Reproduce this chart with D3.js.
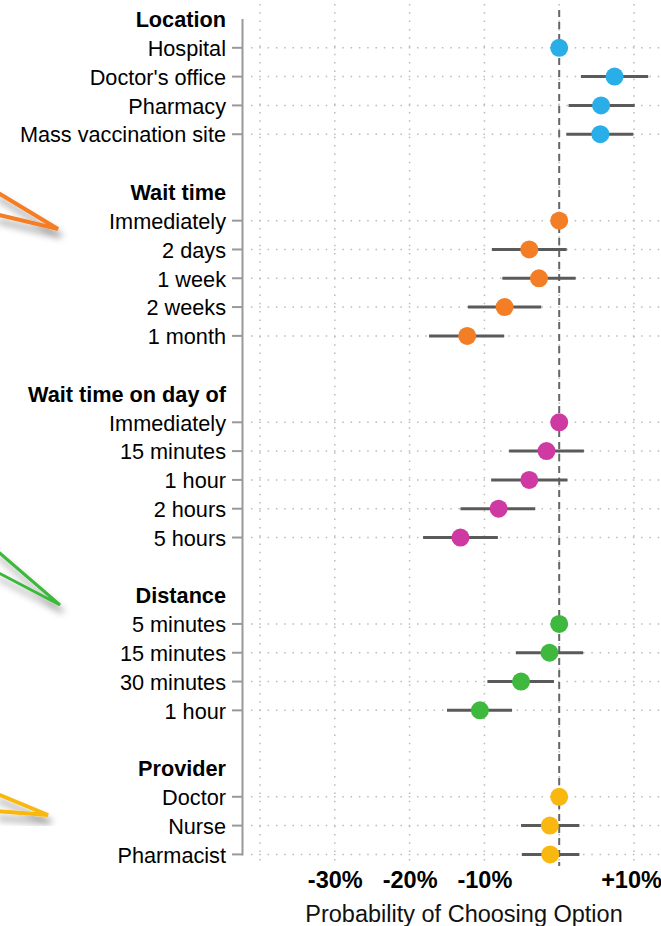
<!DOCTYPE html>
<html>
<head>
<meta charset="utf-8">
<script src="https://cdn.jsdelivr.net/npm/d3@7"></script>
<style>
  body { margin: 0; background: #fff; }
  svg { display: block; font-family: "Liberation Sans", Arial, sans-serif; }
</style>
</head>
<body>
<svg id="chart" width="661" height="926"></svg>
<script>
// attribute groups
var groupNames = ["Location", "Wait time", "Wait time on day of", "Distance", "Provider"];
var groupColors = ["#2AAEE8", "#F47E26", "#CF3AA2", "#3EB83D", "#F9B80F"];

// levels (reference level first in each group)
var levelNames = ["Hospital", "Doctor's office", "Pharmacy", "Mass vaccination site",
                  "Immediately", "2 days", "1 week", "2 weeks", "1 month",
                  "Immediately", "15 minutes", "1 hour", "2 hours", "5 hours",
                  "5 minutes", "15 minutes", "30 minutes", "1 hour",
                  "Doctor", "Nurse", "Pharmacist"];
var levelGroup = [0, 0, 0, 0,
                  1, 1, 1, 1, 1,
                  2, 2, 2, 2, 2,
                  3, 3, 3, 3,
                  4, 4, 4];

// change in probability (%) with 95% interval
var estimate = [0, 7.4, 5.6, 5.5,
                0, -4.0, -2.7, -7.3, -12.3,
                0, -1.7, -4.0, -8.1, -13.2,
                0, -1.3, -5.1, -10.6,
                0, -1.25, -1.2];
var lower = [null, 2.9, 1.25, 0.95,
             null, -9.0, -7.6, -12.2, -17.4,
             null, -6.7, -9.1, -13.2, -18.2,
             null, -5.8, -9.6, -15.0,
             null, -5.1, -5.0];
var upper = [null, 11.9, 10.1, 9.9,
             null, 1.0, 2.2, -2.4, -7.35,
             null, 3.3, 1.1, -3.2, -8.2,
             null, 3.2, -0.7, -6.3,
             null, 2.7, 2.7];

var xTicks = [-40, -30, -20, -10, 0, 10];

var svg = d3.select("#chart");

// build the row slots: header, levels, blank spacer
var slots = [];
groupNames.forEach(function(g, gi) {
    slots.push({id: "h" + gi, type: "header", label: g});
    levelNames.forEach(function(name, i) {
        if (levelGroup[i] == gi) slots.push({id: "r" + i, type: "row", label: name, i: i});
    });
    if (gi < groupNames.length - 1) slots.push({id: "b" + gi, type: "blank", label: ""});
});
var rows = slots.filter(function(s) { return s.type == "row"; });

var x = d3.scaleLinear().domain([-40, 10]).range([260, 634]);
var y = d3.scalePoint().domain(slots.map(function(s) { return s.id; })).range([19, 854.4]);

// left-edge pointer decorations with shadow
var defs = svg.append("defs");
var f = defs.append("filter").attr("id", "shadow").attr("x", "-50%").attr("y", "-50%").attr("width", "200%").attr("height", "200%");
f.append("feDropShadow").attr("dx", 3).attr("dy", 7).attr("stdDeviation", 3.5)
    .attr("flood-color", "#000").attr("flood-opacity", 0.4);

var pointers = [
    {color: groupColors[1], d: "M-5,191 L58,229 L-5,214", w: 4},
    {color: groupColors[3], d: "M-5,549 L60,605 L-5,571", w: 3},
    {color: groupColors[4], d: "M-5,793 L48,815 L-5,811", w: 4}
];
svg.append("g").selectAll("path").data(pointers).enter().append("path")
    .attr("d", function(d) { return d.d; })
    .attr("fill", "none")
    .attr("stroke", function(d) { return d.color; })
    .attr("stroke-width", function(d) { return d.w; })
    .attr("stroke-linejoin", "miter")
    .attr("filter", "url(#shadow)");

// vertical dotted gridlines
svg.append("g").selectAll("line").data(xTicks).enter().append("line")
    .attr("x1", function(d) { return x(d); })
    .attr("x2", function(d) { return x(d); })
    .attr("y1", 4).attr("y2", 866)
    .attr("stroke", "#bbb").attr("stroke-width", 1.5)
    .attr("stroke-dasharray", "1.5,6.8");

// horizontal dotted gridlines at each level
svg.append("g").selectAll("line").data(rows).enter().append("line")
    .attr("x1", 251).attr("x2", 661)
    .attr("y1", function(d) { return y(d.id); })
    .attr("y2", function(d) { return y(d.id); })
    .attr("stroke", "#bbb").attr("stroke-width", 1.5)
    .attr("stroke-dasharray", "1.5,6.8");

// zero reference line
svg.append("line")
    .attr("x1", x(0)).attr("x2", x(0))
    .attr("y1", 10).attr("y2", 866)
    .attr("stroke", "#666").attr("stroke-width", 2)
    .attr("stroke-dasharray", "7,5");

// y axis line and ticks
svg.append("line")
    .attr("x1", 242.5).attr("x2", 242.5)
    .attr("y1", y(slots[0].id)).attr("y2", y(slots[slots.length - 1].id) + 1)
    .attr("stroke", "#999").attr("stroke-width", 2);
svg.append("g").selectAll("line").data(rows).enter().append("line")
    .attr("x1", 232).attr("x2", 242.5)
    .attr("y1", function(d) { return y(d.id); })
    .attr("y2", function(d) { return y(d.id); })
    .attr("stroke", "#999").attr("stroke-width", 2);

// row labels
svg.append("g").selectAll("text").data(slots.filter(function(s) { return s.type != "blank"; }))
    .enter().append("text")
    .attr("x", 226)
    .attr("y", function(d) { return y(d.id); })
    .attr("dy", "0.38em")
    .attr("text-anchor", "end")
    .style("font-size", "21.7px")
    .style("font-weight", function(d) { return d.type == "header" ? "bold" : "normal"; })
    .style("fill", "#000")
    .text(function(d) { return d.label; });

// error bars
var ciRows = rows.filter(function(d) { return lower[d.i] != null; });
svg.append("g").selectAll("line").data(ciRows).enter().append("line")
    .attr("x1", function(d) { return x(lower[d.i]); })
    .attr("x2", function(d) { return x(upper[d.i]); })
    .attr("y1", function(d) { return y(d.id); })
    .attr("y2", function(d) { return y(d.id); })
    .attr("stroke", "#5a5a5a").attr("stroke-width", 3);

// point estimates
svg.append("g").selectAll("circle").data(rows).enter().append("circle")
    .attr("cx", function(d) { return x(estimate[d.i]); })
    .attr("cy", function(d) { return y(d.id); })
    .attr("r", 9)
    .attr("fill", function(d) { return groupColors[levelGroup[d.i]]; });

// x axis labels
var xAxis = d3.axisBottom(x)
    .tickValues(xTicks)
    .tickSize(0)
    .tickFormat(function(d) {
        if (d == 0 || d == -40) return "";
        return (d > 0 ? "+" : "") + d + "%";
    });
var gx = svg.append("g").attr("transform", "translate(0,867)").call(xAxis);
gx.select(".domain").remove();
gx.selectAll("text")
    .attr("dy", 0).attr("y", 21)
    .attr("dx", function(d) { return d > 0 ? -3 : 0; })
    .style("font-family", "Liberation Sans, Arial, sans-serif")
    .style("font-size", "23.5px")
    .style("font-weight", "bold")
    .style("fill", "#000");

svg.append("text")
    .attr("x", 464).attr("y", 922)
    .attr("text-anchor", "middle")
    .style("font-size", "23.5px")
    .style("fill", "#111")
    .text("Probability of Choosing Option");
</script>
</body>
</html>
